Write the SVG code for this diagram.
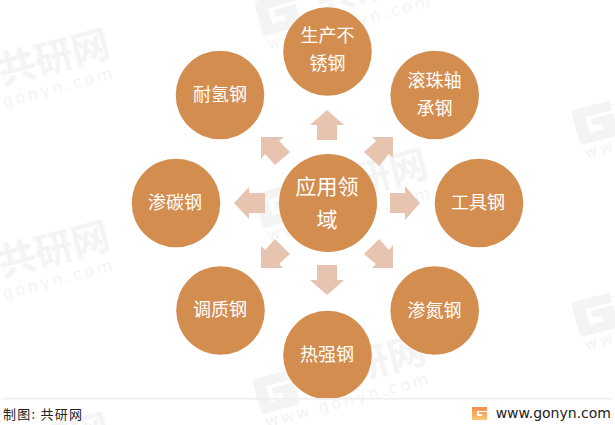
<svg xmlns="http://www.w3.org/2000/svg" width="615" height="425" viewBox="0 0 615 425">
<style>
.n{fill:#D38D4F}
.t{fill:#fff;font:18px "Noto Sans CJK SC","Liberation Sans",sans-serif;text-anchor:middle}
.c{font-size:21px}
.a{fill:#E6C4B0}
.wm{fill:#f4f4f4;font:bold 38px "Noto Sans CJK SC",sans-serif}
.wu{fill:#f4f4f4;font:16px "DejaVu Sans",sans-serif}
</style>
<defs>
<g id="mark" transform="rotate(-15)">
<path fill="#f4f4f4" d="M-20,-14 Q-20,-18 -16,-18 H20 V-8 H-8 V8 H6 V2 H-3 V-5 H20 V14 Q20,18 16,18 H-16 Q-20,18 -20,14 Z"/>
<text class="wu" x="-18" y="32" textLength="168">www.gonyn.com</text>
</g>
<g id="name" transform="rotate(-15)"><text class="wm" x="41" y="10">共研网</text></g>
<linearGradient id="lg" x1="0" y1="0" x2="0" y2="1"><stop offset="0" stop-color="#F58A4B"/><stop offset="1" stop-color="#FBC877"/></linearGradient>
</defs>
<rect width="615" height="425" fill="#fff"/>
<g id="watermarks">
<use href="#mark" x="-40" y="86"/><use href="#name" x="-40" y="86"/>
<use href="#mark" x="-40" y="278"/><use href="#name" x="-40" y="278"/>
<use href="#name" x="-40" y="470"/>
<use href="#mark" x="278" y="14"/><use href="#name" x="278" y="14"/>
<use href="#mark" x="278" y="206"/><use href="#name" x="278" y="206"/>
<use href="#mark" x="276" y="392"/><use href="#name" x="276" y="392"/>
<use href="#mark" x="595" y="123"/>
<use href="#mark" x="595" y="315"/>
</g>
<g id="connectors">
<polygon class="a" points="327,110 344,125 337,125 337,140 317,140 317,125 310,125"/>
<polygon class="a" points="420,203 405,186 405,193 390,193 390,213 405,213 405,220"/>
<polygon class="a" points="327,295 344,280 337,280 337,265 317,265 317,280 310,280"/>
<polygon class="a" points="234,203 249,187 249,193 265,193 265,213 249,213 249,219"/>
<polygon class="a" points="393,137 393,158 389,154 379,166 364,152 376,141 372,137"/>
<polygon class="a" points="261,137 284,137 279,141 290,152 275,165 265,154 261,159"/>
<polygon class="a" points="393,268 372,268 376,264 364,254 379,239 389,250 393,245"/>
<polygon class="a" points="261,268 283,268 279,264 290,254 275,239 265,250 261,246"/>
</g>
<g id="center"><circle class="n" cx="328" cy="203" r="49"/><text class="t c" x="327" y="194">应用领</text><text class="t c" x="327" y="227">域</text></g>
<g id="n1"><circle class="n" cx="327.5" cy="51.5" r="44.3"/><text class="t" x="327.5" y="41.5">生产不</text><text class="t" x="327.5" y="70">锈钢</text></g>
<g id="n2"><circle class="n" cx="434.7" cy="95" r="44.3"/><text class="t" x="434.5" y="87">滚珠轴</text><text class="t" x="434.5" y="115">承钢</text></g>
<g id="n3"><circle class="n" cx="479" cy="203" r="44.3"/><text class="t" x="478" y="208.5">工具钢</text></g>
<g id="n4"><circle class="n" cx="434.7" cy="310.5" r="44.3"/><text class="t" x="434.5" y="316.5">渗氮钢</text></g>
<g id="n5"><circle class="n" cx="327.5" cy="355" r="44.3"/><text class="t" x="327" y="360.5">热强钢</text></g>
<g id="n6"><circle class="n" cx="220.5" cy="310.5" r="44.3"/><text class="t" x="220" y="316">调质钢</text></g>
<g id="n7"><circle class="n" cx="176" cy="203" r="44.3"/><text class="t" x="175" y="208.5">渗碳钢</text></g>
<g id="n8"><circle class="n" cx="220" cy="95" r="44.3"/><text class="t" x="220" y="100.5">耐氢钢</text></g>
<rect x="3" y="398" width="609" height="1.5" fill="#eee"/>
<text x="3" y="419" textLength="79" style="font:13px 'Noto Sans CJK SC',sans-serif" fill="#222">制图: 共研网</text>
<path fill="url(#lg)" d="M472,407 H487 V411 H477 V416 H482 V414 H479 V412 H487 V420 H472 Z"/>
<text x="611" y="418" text-anchor="end" style="font:14px 'DejaVu Sans',sans-serif" fill="#222">www.gonyn.com</text>
</svg>
